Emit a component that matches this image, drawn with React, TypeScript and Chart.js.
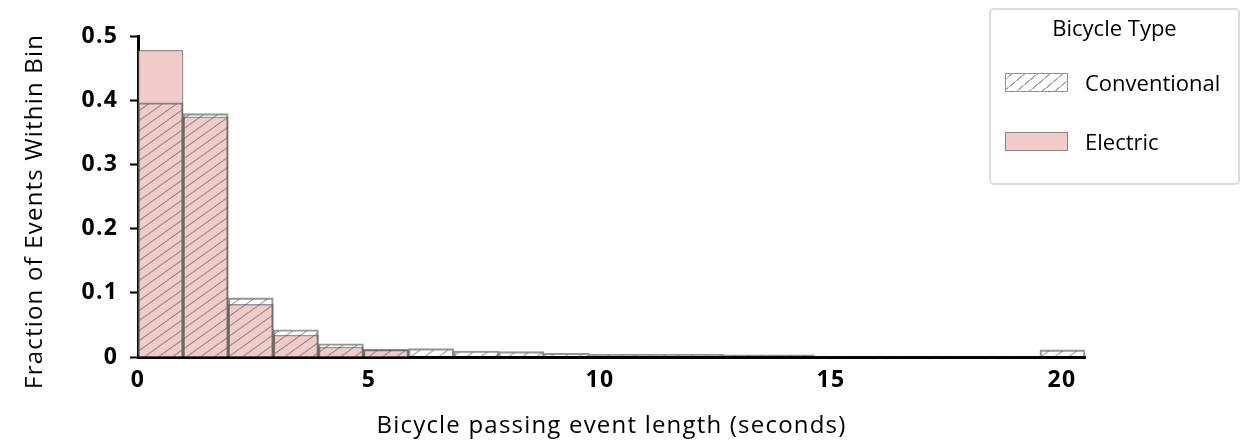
import React, { useEffect, useRef } from 'react';
import { Chart, registerables } from 'chart.js';

Chart.register(...registerables);

// ---- data ----
const BIN_COUNT = 21;
const X_MAX = 20.5;
const binWidth = X_MAX / BIN_COUNT;
const binCenters = Array.from({ length: BIN_COUNT }, (_, i) => (i + 0.5) * binWidth);

const conventional = [
  0.396, 0.379, 0.092, 0.0425, 0.0207, 0.012, 0.013, 0.0093, 0.0083, 0.0058, 0.0045,
  0.0045, 0.0045, 0.0035, 0.0035, 0.0015, 0.0015, 0.0015, 0.0015, 0.0015, 0.011,
];
const electric = [
  0.478, 0.374, 0.082, 0.034, 0.0156, 0.011, 0, 0, 0, 0, 0,
  0, 0, 0, 0, 0, 0, 0, 0, 0, 0,
];
const yTicks = [0, 0.1, 0.2, 0.3, 0.4, 0.5];
const xTicks = [0, 5, 10, 15, 20];
const seriesNames = ['Conventional', 'Electric'];
const legendTitle = 'Bicycle Type';
const xTitle = 'Bicycle passing event length (seconds)';
const yTitle = 'Fraction of Events Within Bin';

const FONT = "'Open Sans', 'Noto Sans', sans-serif";
const PINK = '#f1caca';
const EDGE = 'rgba(85,85,85,0.62)';
const HATCH = 'rgba(80,80,80,0.5)';

function makeHatch(): CanvasPattern | string {
  const c = document.createElement('canvas');
  const w = 14;
  const h = 10;
  c.width = w;
  c.height = h;
  const g = c.getContext('2d');
  if (!g) return 'rgba(0,0,0,0)';
  g.strokeStyle = HATCH;
  g.lineWidth = 1.1;
  g.beginPath();
  for (let n = 0; n <= 2; n++) {
    const yAt = (x: number) => n * h - (h / w) * x;
    g.moveTo(-2, yAt(-2));
    g.lineTo(w + 2, yAt(w + 2));
  }
  g.stroke();
  return g.createPattern(c, 'repeat') || 'rgba(0,0,0,0)';
}

const spacingPlugin = {
  id: 'letterSpacing',
  beforeDraw: (c: any) => {
    c.ctx.letterSpacing = '1.2px';
  },
  afterDraw: (c: any) => {
    c.ctx.letterSpacing = '0px';
  },
};

export default function App() {
  const ref = useRef<HTMLCanvasElement | null>(null);

  useEffect(() => {
    if (!ref.current) return;
    const hatch = makeHatch();
    const chart = new Chart(ref.current, {
      type: 'bar',
      data: {
        datasets: [
          {
            label: seriesNames[0],
            data: conventional.map((v, i) => ({ x: binCenters[i], y: v })),
            backgroundColor: hatch as any,
            borderColor: EDGE,
            borderWidth: 1.5,
            grouped: false,
            barPercentage: 1,
            categoryPercentage: 1,
          } as any,
          {
            label: seriesNames[1],
            data: electric.map((v, i) => ({ x: binCenters[i], y: v })),
            backgroundColor: PINK,
            borderColor: EDGE,
            borderWidth: 1.5,
            grouped: false,
            barPercentage: 1,
            categoryPercentage: 1,
          } as any,
        ],
      },
      plugins: [spacingPlugin],
      options: {
        animation: false,
        responsive: true,
        maintainAspectRatio: false,
        layout: { padding: { left: 0, right: 157, top: 36, bottom: 0 } },
        plugins: { legend: { display: false }, tooltip: { enabled: false } },
        scales: {
          x: {
            type: 'linear',
            min: 0,
            max: X_MAX,
            offset: false,
            grid: { display: true, offset: false, drawOnChartArea: false, drawTicks: false },
            border: { display: true, color: '#000', width: 3 },
            afterFit: (s: any) => {
              s.height = 87;
            },
            afterBuildTicks: (s: any) => {
              s.ticks = xTicks.map((v) => ({ value: v }));
            },
            ticks: {
              padding: 10,
              color: '#000',
              font: { family: FONT, size: 23, weight: 'bold' },
              maxRotation: 0,
              callback: (v: any) => String(v),
            },
            title: {
              display: true,
              text: xTitle,
              color: '#000',
              font: { family: FONT, size: 24 },
              padding: { top: 0, bottom: 3.5 },
            },
          } as any,
          y: {
            type: 'linear',
            min: 0,
            max: 0.5,
            afterFit: (s: any) => {
              s.width = 138;
            },
            afterBuildTicks: (s: any) => {
              s.ticks = yTicks.map((v) => ({ value: v }));
            },
            grid: { display: true, drawOnChartArea: false, drawTicks: true, tickLength: 8, tickColor: '#000', tickWidth: 2 },
            border: { display: true, color: '#000', width: 3 },
            ticks: {
              padding: 12,
              color: '#000',
              font: { family: FONT, size: 23, weight: 'bold' },
              callback: (v: any) => (v === 0 ? '0' : Number(v).toFixed(1)),
            },
            title: {
              display: true,
              text: yTitle + '    ',
              color: '#000',
              font: { family: FONT, size: 24 },
              padding: { top: 21, bottom: 0 },
            },
          } as any,
        },
      },
    });
    return () => chart.destroy();
  }, []);

  return (
    <div style={{ position: 'fixed', left: 0, top: 0, width: 1242, height: 444, background: '#fff', fontFamily: FONT }}>
      <canvas ref={ref} />
      <div
        style={{
          position: 'absolute',
          left: 989,
          top: 8,
          width: 251,
          height: 177,
          boxSizing: 'border-box',
          border: '2px solid #dcdcdc',
          borderRadius: 5,
          background: '#fff',
          color: '#000',
        }}
      >
        <div style={{ position: 'absolute', left: 0, right: 0, top: 2, textAlign: 'center', fontSize: 22, lineHeight: '30px' }}>
          {legendTitle}
        </div>
        {seriesNames.map((name, i) => (
          <div key={name} style={{ position: 'absolute', left: 0, top: 57 + i * 59, height: 30, width: '100%' }}>
            <div
              style={{
                position: 'absolute',
                left: 14,
                top: 6,
                width: 63,
                height: 19,
                boxSizing: 'border-box',
                border: '1.5px solid ' + EDGE,
                background:
                  i === 0
                    ? 'repeating-linear-gradient(-40deg, transparent 0px, transparent 7px, rgba(80,80,80,0.5) 7px, rgba(80,80,80,0.5) 8.2px)'
                    : PINK,
              }}
            />
            <div style={{ position: 'absolute', left: 94, top: 0, fontSize: 22, lineHeight: '30px', whiteSpace: 'nowrap' }}>{name}</div>
          </div>
        ))}
      </div>
    </div>
  );
}
